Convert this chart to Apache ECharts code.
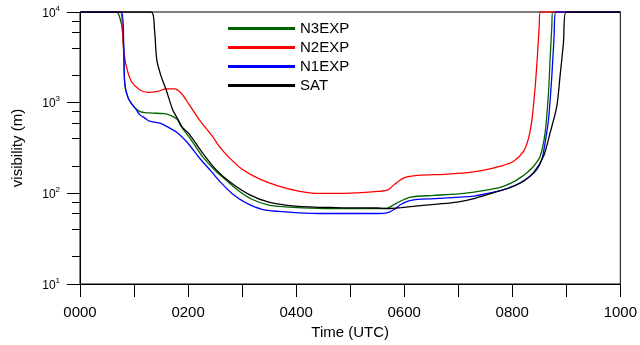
<!DOCTYPE html>
<html>
<head>
<meta charset="utf-8">
<script src="https://cdn.jsdelivr.net/npm/echarts@6/dist/echarts.min.js"></script>
<style>
html,body{margin:0;padding:0;background:#fff;}
#chart{width:640px;height:345px;}
</style>
</head>
<body>
<div id="chart"></div>
<script>
// ---- data (time in hours UTC, visibility in m) ----
const seriesNames = ['N3EXP', 'N2EXP', 'N1EXP', 'SAT'];
const seriesColors = ['#006400', '#ff0000', '#0000ff', '#000000'];

const n3Time = [0, 0.675, 0.748, 0.785, 0.809, 0.827, 0.858, 0.95, 1.103, 1.287, 1.562, 1.686, 1.801, 1.869, 2.053, 2.261, 2.513, 2.757, 2.941, 3.18, 3.493, 3.8, 4.412, 5.018, 5.515, 5.699, 5.822, 5.938, 6.121, 6.557, 7.108, 7.537, 7.776, 7.996, 8.149, 8.272, 8.395, 8.517, 8.608, 8.671, 8.7, 8.732, 8.75, 10];
const n3Vis = [10000, 10000, 8170, 6340, 3540, 1660, 1290, 975, 802, 770, 757, 719, 650, 550, 392, 257, 176, 131, 106, 86, 74, 71, 68.4, 67.9, 67.9, 68.9, 75.7, 82.3, 91, 95, 100, 109, 116, 131, 149, 169, 199, 257, 464, 1280, 2970, 6890, 10000, 10000];

const n2Time = [0, 0.748, 0.785, 0.809, 0.858, 0.95, 1.103, 1.256, 1.439, 1.594, 1.746, 1.869, 2.022, 2.206, 2.45, 2.574, 2.757, 3.002, 3.309, 3.676, 4.044, 4.412, 4.903, 5.515, 5.699, 5.822, 6.006, 6.25, 6.741, 7.169, 7.476, 7.781, 8.027, 8.211, 8.303, 8.364, 8.425, 8.469, 8.498, 8.517, 10];
const n2Vis = [10000, 10000, 6340, 3820, 2510, 1710, 1390, 1300, 1330, 1420, 1420, 1280, 951, 650, 427, 331, 249, 184, 145, 120, 106, 100, 100, 105, 109, 126, 149, 158, 162, 169, 180, 199, 226, 292, 409, 650, 1510, 3520, 6890, 10000, 10000];

const n1Time = [0, 0.767, 0.809, 0.827, 0.888, 0.95, 1.042, 1.103, 1.195, 1.287, 1.502, 1.654, 1.807, 1.991, 2.206, 2.45, 2.574, 2.818, 3.064, 3.369, 3.8, 4.412, 4.84, 5.515, 5.699, 5.822, 5.943, 6.127, 6.557, 7.292, 7.66, 7.904, 8.149, 8.333, 8.456, 8.548, 8.608, 8.671, 8.732, 8.774, 8.805, 10];
const n1Vis = [10000, 10000, 4530, 1660, 1130, 990, 837, 738, 679, 624, 588, 527, 464, 361, 247, 169, 138, 99, 79, 66.7, 62.4, 59.9, 59.9, 59.9, 61.4, 66.7, 75.7, 83.8, 87.5, 93.4, 103, 113, 131, 155, 184, 237, 361, 650, 1950, 5360, 10000, 10000];

const satTime = [0, 1.318, 1.379, 1.421, 1.502, 1.594, 1.715, 1.807, 1.9, 2.022, 2.267, 2.513, 2.757, 3.125, 3.493, 3.983, 4.719, 5.515, 5.699, 5.943, 6.557, 6.985, 7.292, 7.66, 7.965, 8.211, 8.395, 8.579, 8.7, 8.824, 8.884, 8.947, 8.995, 10];
const satVis = [10000, 10000, 6340, 2970, 1950, 1390, 837, 665, 530, 450, 280, 184, 136, 97.5, 80.2, 72.4, 69.6, 68.9, 67.9, 69.6, 75.7, 80.2, 87.5, 102, 116, 136, 169, 257, 464, 910, 1950, 4530, 10000, 10000];

const xLabelValues = [0, 2, 4, 6, 8, 10];
const xTickLabels = ['0000', '0200', '0400', '0600', '0800', '1000'];
const yMajorTicks = [10, 100, 1000, 10000];
const yMinorTicks = [20, 40, 60, 80, 200, 400, 600, 800, 2000, 4000, 6000, 8000];

// ---- build ----
const times = [n3Time, n2Time, n1Time, satTime];
const vis = [n3Vis, n2Vis, n1Vis, satVis];
const FONT = "'Liberation Sans', Arial, Helvetica, sans-serif";

const series = seriesNames.map((name, i) => ({
  name: name,
  type: 'line',
  data: times[i].map((t, k) => [t, vis[i][k]]),
  showSymbol: false,
  symbol: 'none',
  smooth: 0.3,
  clip: true,
  lineStyle: { color: seriesColors[i], width: 1.3 },
  itemStyle: { color: seriesColors[i] },
  emphasis: { disabled: true }
}));

const chart = echarts.init(document.getElementById('chart'), null, { renderer: 'canvas' });
chart.setOption({
  animation: false,
  backgroundColor: '#ffffff',
  textStyle: { fontFamily: FONT },
  grid: { left: 80, right: 16, top: 12, bottom: 60, show: true, borderColor: '#000', borderWidth: 1, backgroundColor: 'transparent' },
  legend: {
    show: true,
    orient: 'vertical',
    left: 223,
    top: 16,
    itemWidth: 67,
    itemHeight: 3,
    itemGap: 4,
    icon: 'rect',
    data: seriesNames,
    textStyle: { fontSize: 15, color: '#000', fontFamily: FONT }
  },
  xAxis: {
    type: 'value',
    min: 0,
    max: 10,
    interval: 1,
    name: 'Time (UTC)',
    nameLocation: 'middle',
    nameGap: 41,
    nameTextStyle: { fontSize: 15, color: '#000', fontFamily: FONT },
    axisLine: { show: true, onZero: false, lineStyle: { color: '#000', width: 1 } },
    axisTick: { show: true, length: 13, lineStyle: { color: '#000', width: 1 } },
    axisLabel: {
      customValues: xLabelValues,
      margin: 21,
      fontSize: 15,
      color: '#000',
      fontFamily: FONT,
      formatter: function (v) { const i = xLabelValues.indexOf(v); return i >= 0 ? xTickLabels[i] : ''; }
    },
    splitLine: { show: false }
  },
  yAxis: [
    {
      type: 'log',
      logBase: 10,
      min: 10,
      max: 10000,
      position: 'left',
      name: 'visibility (m)',
      nameLocation: 'middle',
      nameGap: 55,
      nameTextStyle: { fontSize: 15, color: '#000', fontFamily: FONT },
      axisLine: { show: true, lineStyle: { color: '#000', width: 1 } },
      axisTick: { show: true, length: 13, customValues: yMajorTicks, lineStyle: { color: '#000', width: 1 } },
      axisLabel: {
        customValues: yMajorTicks,
        margin: 20,
        color: '#000',
        fontFamily: FONT,
        formatter: function (v) { return '{b|10}{s|' + Math.round(Math.log10(v)) + '}'; },
        rich: {
          b: { fontSize: 12, color: '#000', fontFamily: FONT, padding: [3, 0, 0, 0] },
          s: { fontSize: 8, color: '#000', fontFamily: FONT, verticalAlign: 'top' }
        }
      },
      splitLine: { show: false }
    },
    {
      type: 'log',
      logBase: 10,
      min: 10,
      max: 10000,
      position: 'left',
      axisLine: { show: false },
      axisTick: { show: true, length: 8, customValues: yMinorTicks, lineStyle: { color: '#000', width: 1 } },
      axisLabel: { show: false },
      splitLine: { show: false }
    }
  ],
  series: series
});
</script>
</body>
</html>
